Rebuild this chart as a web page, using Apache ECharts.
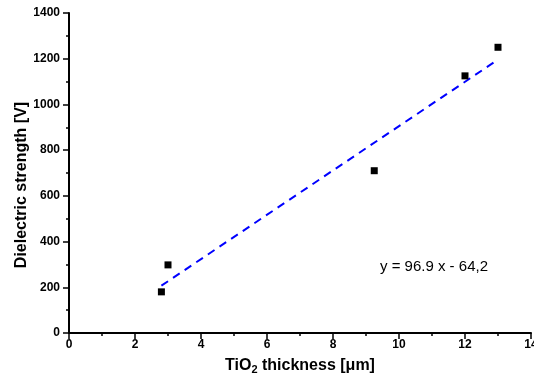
<!DOCTYPE html>
<html>
<head>
<meta charset="utf-8">
<script src="https://cdn.jsdelivr.net/npm/echarts@6/dist/echarts.min.js"></script>
<style>
  html, body { margin: 0; padding: 0; background: #fff; }
  #main { width: 534px; height: 379px; }
</style>
</head>
<body>
<div id="main"></div>
<script>
// measured points
var thickness = [2.8, 3.0, 9.25, 12.0, 13.0];
var strength = [180, 298, 710, 1125, 1250];
// linear fit endpoints
var fitX = [2.8, 13.0];
var fitY = [207, 1196];
var fitLabel = 'y = 96.9 x - 64,2';

var chart = echarts.init(document.getElementById('main'));

var FONT = '"Liberation Sans", Arial, sans-serif';

var option = {
  animation: false,
  grid: { left: 69, right: 3, top: 13, bottom: 46, show: false, containLabel: false, outerBoundsMode: 'none' },
  xAxis: {
    type: 'value',
    min: 0, max: 14, interval: 2,
    name: '{n|TiO}{s|2}{n| thickness [μm]}',
    nameLocation: 'middle',
    nameGap: 25,
    nameMoveOverlap: false,
    nameTextStyle: {
      rich: {
        n: { fontFamily: FONT, fontWeight: 'bold', fontSize: 16, lineHeight: 16, color: '#000', verticalAlign: 'top' },
        s: { fontFamily: FONT, fontWeight: 'bold', fontSize: 11, lineHeight: 11, color: '#000', verticalAlign: 'top', padding: [6, 0, 0, 0] }
      }
    },
    axisLine: { show: true, onZero: false, lineStyle: { color: '#000', width: 2 } },
    axisTick: { show: true, inside: false, length: 6, lineStyle: { color: '#000', width: 1.5 } },
    minorTick: { show: true, splitNumber: 2, length: 3, lineStyle: { color: '#000', width: 1.5 } },
    axisLabel: { margin: 6, fontFamily: FONT, fontWeight: 'bold', fontSize: 12, color: '#000', showMaxLabel: true },
    splitLine: { show: false }
  },
  yAxis: {
    type: 'value',
    min: 0, max: 1400, interval: 200,
    name: 'Dielectric strength [V]',
    nameLocation: 'middle',
    nameGap: 39,
    nameMoveOverlap: false,
    nameTextStyle: { fontFamily: FONT, fontWeight: 'bold', fontSize: 16, color: '#000', padding: [0, 24, 0, 0] },
    axisLine: { show: true, onZero: false, lineStyle: { color: '#000', width: 2 } },
    axisTick: { show: true, inside: false, length: 6, lineStyle: { color: '#000', width: 1.5 } },
    minorTick: { show: true, splitNumber: 2, length: 3, lineStyle: { color: '#000', width: 1.5 } },
    axisLabel: {
      margin: 9, fontFamily: FONT, fontWeight: 'bold', fontSize: 12, color: '#000',
      formatter: function (v) { return String(v); }
    },
    splitLine: { show: false }
  },
  series: [
    {
      type: 'line',
      data: fitX.map(function (x, i) { return [x, fitY[i]]; }),
      symbol: 'none',
      lineStyle: { color: '#0000ff', width: 2, type: [8, 6] },
      z: 2
    },
    {
      type: 'scatter',
      data: thickness.map(function (x, i) { return [x, strength[i]]; }),
      symbol: 'rect',
      symbolSize: 7,
      itemStyle: { color: '#000', opacity: 1 },
      z: 3
    }
  ],
  graphic: [
    {
      type: 'text',
      left: 380,
      top: 259,
      style: { text: fitLabel, font: '15px ' + FONT, fill: '#000' }
    }
  ]
};

chart.setOption(option);
</script>
</body>
</html>
